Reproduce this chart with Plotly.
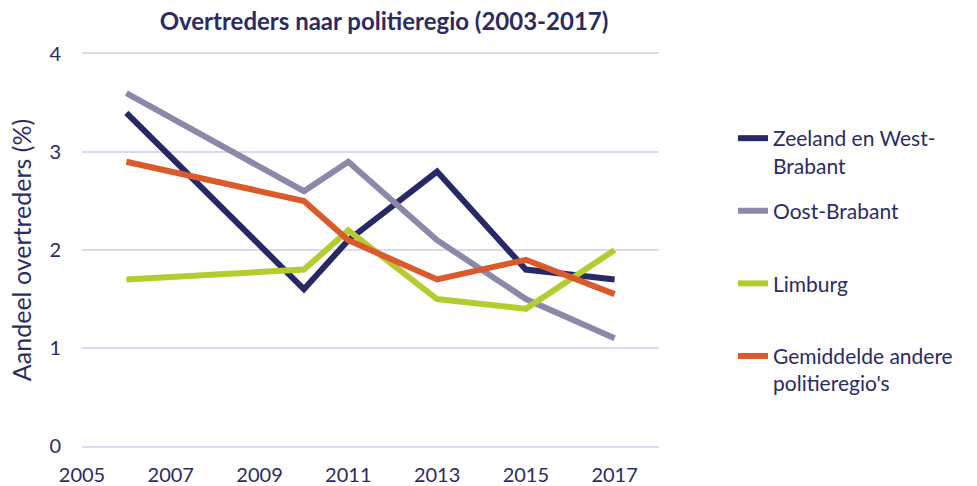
import plotly.graph_objects as go

years = [2006, 2010, 2011, 2013, 2015, 2017]
zeeland = [3.4, 1.6, 2.1, 2.8, 1.8, 1.7]
oost_brabant = [3.6, 2.6, 2.9, 2.1, 1.5, 1.1]
limburg = [1.7, 1.8, 2.2, 1.5, 1.4, 2.0]
gemiddelde = [2.9, 2.5, 2.1, 1.7, 1.9, 1.55]

names = ["Zeeland en West-<br>Brabant", "Oost-Brabant<br> ", "Limburg<br> ", "Gemiddelde andere<br>politieregio's"]
colors = ["#272966", "#8C88AA", "#B6CC2E", "#DB5A2B"]
series = [zeeland, oost_brabant, limburg, gemiddelde]

navy = "#2B2B66"
grid = "#DADAF0"
font_family = "Lato, 'Open Sans', sans-serif"

L, R, T, B = 82, 318, 54, 40
W, H = 977, 486
pw, ph = W - L - R, H - T - B

fig = go.Figure()
for i, (nm, col, vals) in enumerate(zip(names, colors, series)):
    fig.add_trace(go.Scatter(x=years, y=vals, mode="lines", name=nm,
                             line=dict(color=col, width=6), legendgroup=str(i)))

fig.update_layout(
    width=W, height=H,
    margin=dict(l=L, r=R, t=T, b=B, autoexpand=False),
    paper_bgcolor="white", plot_bgcolor="white",
    font=dict(family=font_family, color=navy, size=20),
    title=dict(text="<b>Overtreders naar politieregio (2003-2017)</b>",
               x=384/W, xanchor="center", y=1 - 22/H, yanchor="middle",
               font=dict(size=24, color=navy)),
    xaxis=dict(range=[2005, 2018], tickvals=[2005, 2007, 2009, 2011, 2013, 2015, 2017],
               showgrid=False, zeroline=False, showline=True, linecolor=grid,
               linewidth=1.5, mirror=True, ticks="",
               ticklabelstandoff=10,
               tickfont=dict(size=20, color=navy)),
    yaxis=dict(range=[0, 4], tickvals=[0, 1, 2, 3, 4], showgrid=True,
               gridcolor=grid, gridwidth=1.5, zeroline=False, showline=False,
               ticks="", ticklabelstandoff=20, tickfont=dict(size=20, color=navy),
               title=dict(text="Aandeel overtreders (%)", font=dict(size=25, color=navy), standoff=10)),
    legend=dict(x=(733 - L) / pw, xanchor="left", y=1 - (118 - T) / ph, yanchor="top",
                valign="top", tracegroupgap=15, font=dict(size=21, color=navy),
                bgcolor="rgba(0,0,0,0)"),
    showlegend=True,
)

fig.write_html("out.html", config={"displayModeBar": False},
               post_script="document.body.style.margin='0';")
